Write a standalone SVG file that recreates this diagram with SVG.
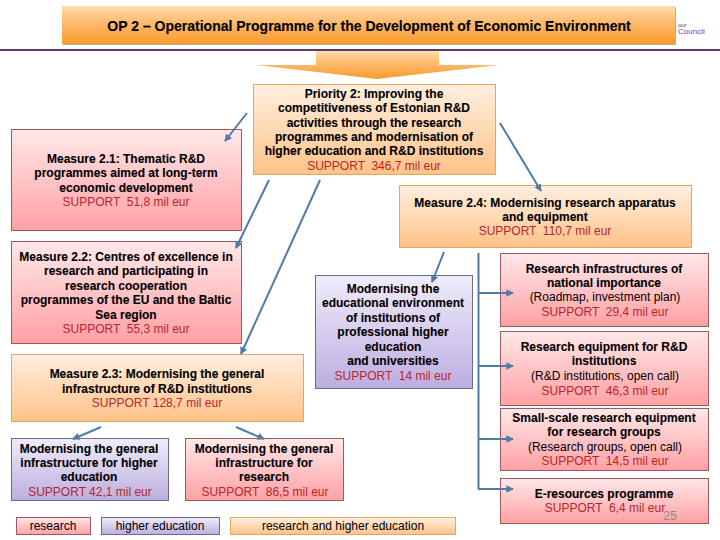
<svg xmlns="http://www.w3.org/2000/svg" width="720" height="540" viewBox="0 0 720 540">
<style>
text{font-family:"Liberation Sans",Arial,sans-serif;font-size:12px;text-anchor:middle;fill:#000;white-space:pre}
.b{font-weight:bold;stroke:#000;stroke-width:.1}
.s{fill:#b8262c}
.r{fill:url(#gr);stroke:#9c5a5e;stroke-width:1}
.o{fill:url(#go);stroke:#e0a860;stroke-width:1}
.v{fill:url(#gv);stroke:#6a6a90;stroke-width:1}
.c{fill:none;stroke:#4f7ba6;stroke-width:2;marker-end:url(#a)}
.n{fill:none;stroke:#4f7ba6;stroke-width:2}
</style>
<defs>
<linearGradient id="gr" x1="0" y1="0" x2="0" y2="1"><stop offset="0" stop-color="#ffe8e8"/><stop offset="1" stop-color="#ffa0a4"/></linearGradient>
<linearGradient id="go" x1="0" y1="0" x2="0" y2="1"><stop offset="0" stop-color="#ffefe0"/><stop offset="1" stop-color="#ffc288"/></linearGradient>
<linearGradient id="gv" x1="0" y1="0" x2="0" y2="1"><stop offset="0" stop-color="#f0ecfa"/><stop offset="1" stop-color="#bcaee0"/></linearGradient>
<linearGradient id="gt" x1="0" y1="0" x2="0" y2="1"><stop offset="0" stop-color="#ffe0ac"/><stop offset=".35" stop-color="#ffc078"/><stop offset="1" stop-color="#f79a2c"/></linearGradient>
<marker id="a" viewBox="0 0 8 8" refX="7" refY="4" markerWidth="3.800" markerHeight="3.800" orient="auto"><path d="M0 0L8 4L0 8z" fill="#4f7ba6"/></marker>
</defs>

<g id="logo"><text x="678" y="27" style="font-size:6px;text-anchor:start;fill:#444">our</text><text x="678" y="34" style="font-size:8px;text-anchor:start;fill:#6a4a8a">Council</text></g>
<rect x="0" y="49" width="720" height="2" fill="#5c3a6c"/>

<g id="title">
<rect x="63" y="7" width="613" height="38" fill="#b5ada5"/><rect x="62" y="6" width="613" height="38" fill="url(#gt)"/>
<text class="b" x="369" y="31" style="font-size:14px">OP 2 – Operational Programme for the Development of Economic Environment</text></g>

<g id="big-arrow"><polygon points="316,51 439,51 439,65 499,65 377,79 256,65 316,65" fill="url(#gt)"/></g>

<g id="priority"><rect class="o" x="253.500" y="84.500" width="242" height="90"/>
<text class="b" x="374" y="98">Priority 2: Improving the</text>
<text class="b" x="374" y="112">competitiveness of Estonian R&amp;D</text>
<text class="b" x="374" y="127">activities through the research</text>
<text class="b" x="374" y="141">programmes and modernisation of</text>
<text class="b" x="374" y="155">higher education and R&amp;D institutions</text>
<text class="s" x="374" y="170">SUPPORT  346,7 mil eur</text></g>

<g id="m21"><rect class="r" x="11.500" y="129.500" width="230" height="101"/>
<text class="b" x="126" y="163">Measure 2.1: Thematic R&amp;D</text>
<text class="b" x="126" y="177">programmes aimed at long-term</text>
<text class="b" x="126" y="192">economic development</text>
<text class="s" x="126" y="206">SUPPORT  51,8 mil eur</text></g>

<g id="m22"><rect class="r" x="11.500" y="241.500" width="230" height="102"/>
<text class="b" x="126" y="261">Measure 2.2: Centres of excellence in</text>
<text class="b" x="126" y="275">research and participating in</text>
<text class="b" x="126" y="290">research cooperation</text>
<text class="b" x="126" y="304">programmes of the EU and the Baltic</text>
<text class="b" x="126" y="319">Sea region</text>
<text class="s" x="126" y="333">SUPPORT  55,3 mil eur</text></g>

<g id="m23"><rect class="o" x="11.500" y="354.500" width="292" height="67"/>
<text class="b" x="157" y="378">Measure 2.3: Modernising the general</text>
<text class="b" x="157" y="393">infrastructure of R&amp;D institutions</text>
<text class="s" x="157" y="407">SUPPORT 128,7 mil eur</text></g>

<g id="m24"><rect class="o" x="399.500" y="185.500" width="292" height="62"/>
<text class="b" x="545" y="207">Measure 2.4: Modernising research apparatus</text>
<text class="b" x="545" y="221">and equipment</text>
<text class="s" x="545" y="235">SUPPORT  110,7 mil eur</text></g>

<g id="edu"><rect class="v" x="315.500" y="275.500" width="157" height="113"/>
<text class="b" x="393" y="293">Modernising the</text>
<text class="b" x="393" y="307">educational environment</text>
<text class="b" x="393" y="322">of institutions of</text>
<text class="b" x="393" y="336">professional higher</text>
<text class="b" x="393" y="351">education</text>
<text class="b" x="393" y="365">and universities</text>
<text class="s" x="393" y="380">SUPPORT  14 mil eur</text></g>

<g id="sub-he"><rect class="v" x="11.500" y="438.500" width="157" height="62"/>
<text class="b" x="89" y="453">Modernising the general</text>
<text class="b" x="89" y="467">infrastructure for higher</text>
<text class="b" x="89" y="481">education</text>
<text class="s" x="90" y="496">SUPPORT 42,1 mil eur</text></g>

<g id="sub-res"><rect class="r" x="185.500" y="438.500" width="158" height="62"/>
<text class="b" x="264" y="453">Modernising the general</text>
<text class="b" x="264" y="467">infrastructure for</text>
<text class="b" x="264" y="481">research</text>
<text class="s" x="265" y="496">SUPPORT  86,5 mil eur</text></g>

<g id="r1"><rect class="r" x="500.500" y="253.500" width="208" height="73"/>
<text class="b" x="604" y="273">Research infrastructures of</text>
<text class="b" x="604" y="287">national importance</text>
<text x="605" y="301">(Roadmap, investment plan)</text>
<text class="s" x="605" y="316">SUPPORT  29,4 mil eur</text></g>

<g id="r2"><rect class="r" x="500.500" y="331.500" width="208" height="74"/>
<text class="b" x="604" y="351">Research equipment for R&amp;D</text>
<text class="b" x="604" y="365">institutions</text>
<text x="605" y="380">(R&amp;D institutions, open call)</text>
<text class="s" x="605" y="395">SUPPORT  46,3 mil eur</text></g>

<g id="r3"><rect class="r" x="500.500" y="408.500" width="208" height="62"/>
<text class="b" x="604" y="422">Small-scale research equipment</text>
<text class="b" x="604" y="436">for research groups</text>
<text x="605" y="451">(Research groups, open call)</text>
<text class="s" x="605" y="465">SUPPORT  14,5 mil eur</text></g>

<g id="r4"><rect class="r" x="500.500" y="478.500" width="208" height="45"/>
<text class="b" x="604" y="498">E-resources programme</text>
<text class="s" x="605" y="512">SUPPORT  6,4 mil eur</text></g>
<text x="670" y="520" style="font-size:12px;fill:#8a8a8a">25</text>

<g id="legend-research"><rect class="r" x="16.500" y="517.500" width="74" height="17"/><text x="53" y="530">research</text></g>
<g id="legend-he"><rect class="v" x="101.500" y="517.500" width="118" height="17"/><text x="160" y="530">higher education</text></g>
<g id="legend-both"><rect class="o" x="230.500" y="517.500" width="225" height="17"/><text x="343" y="530">research and higher education</text></g>

<g id="connectors">
<path class="c" d="M247 113L225 141"/>
<path class="c" d="M269 180L236 248"/>
<path class="c" d="M320 180L241 354"/>
<path class="c" d="M500 123L541 191"/>
<path class="c" d="M444 252L432 282"/>
<path class="c" d="M101 427L73 439"/>
<path class="c" d="M236 427L264 439"/>
<path class="n" d="M478.500 253V489"/>
<path class="c" d="M478 293H513"/>
<path class="c" d="M478 366H513"/>
<path class="c" d="M478 439H513"/>
<path class="c" d="M478 489H513"/>
</g>
</svg>
